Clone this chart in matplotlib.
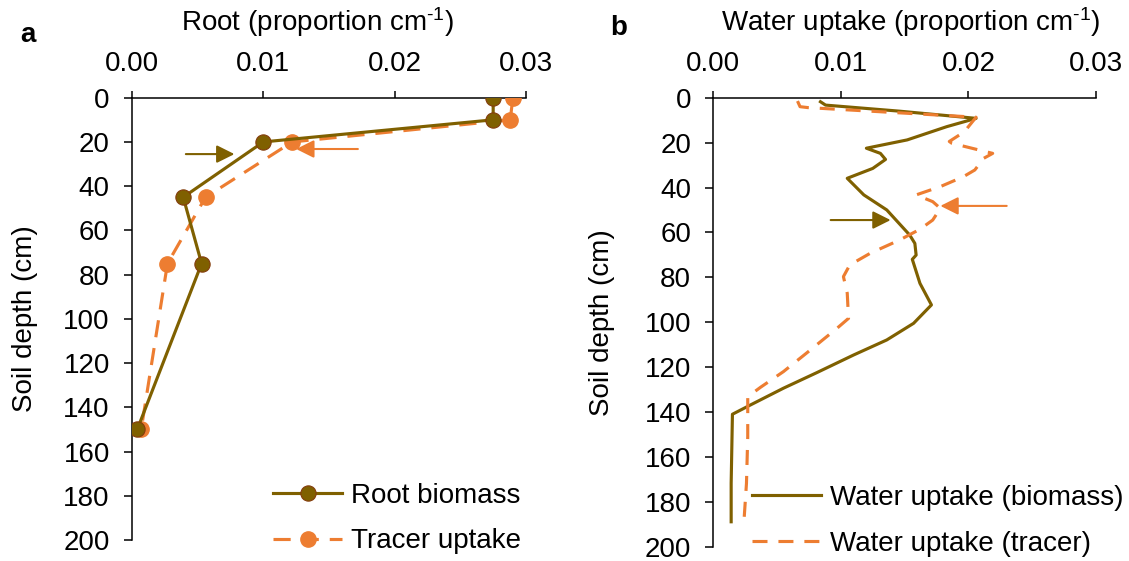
import matplotlib
matplotlib.use("Agg")
import matplotlib.pyplot as plt

plt.rcParams['font.family'] = ['Liberation Sans', 'DejaVu Sans']
plt.rcParams['mathtext.fontset'] = 'custom'
plt.rcParams['mathtext.rm'] = 'Liberation Sans'
plt.rcParams['mathtext.it'] = 'Liberation Sans:italic'
plt.rcParams['font.size'] = 20

BROWN = '#7F6000'
ORANGE = '#ED7D31'

# panel a: root distribution
root_depth = [0, 10, 20, 45, 75, 150]
root_biomass = [0.0275, 0.0275, 0.0100, 0.0039, 0.0053, 0.0004]
tracer_uptake = [0.0290, 0.0288, 0.0122, 0.0056, 0.0027, 0.0007]

# panel b: water uptake profiles
wu_bio_depth = [1.8, 3.3, 6.0, 9.2, 12.9, 18.8, 22.5, 24.8, 27.5, 31.5, 35.9, 43.3,
                50.0, 61.2, 64.9, 70.1, 72.0, 82.7, 92.3, 100.5, 107.9, 114.6, 122.5,
                129.4, 136.9, 141.0, 171.8, 188.9]
wu_bio = [0.0084, 0.0088, 0.0146, 0.0206, 0.0183, 0.0152, 0.0120, 0.0131, 0.0135,
          0.0125, 0.0105, 0.0118, 0.0136, 0.0154, 0.0158, 0.0159, 0.0156, 0.0162,
          0.0171, 0.0157, 0.0136, 0.0110, 0.0081, 0.0055, 0.0029, 0.0015, 0.0014,
          0.0014]
wu_tr_depth = [1.5, 4.0, 4.4, 8.7, 12.9, 15.1, 19.5, 20.3, 24.8, 27.0, 32.2, 35.2,
               39.6, 43.3, 46.3, 49.3, 54.5, 58.6, 63.4, 69.3, 74.5, 79.7, 87.1, 98.3,
               102.7, 113.8, 122.0, 129.0, 133.2, 151.0, 171.8, 188.9]
wu_tr = [0.0066, 0.0068, 0.0074, 0.0206, 0.0200, 0.0197, 0.0185, 0.0187, 0.0219,
         0.0212, 0.0205, 0.0196, 0.0178, 0.0159, 0.0172, 0.0178, 0.0172, 0.0162,
         0.0146, 0.0123, 0.0107, 0.0102, 0.0105, 0.0106, 0.0097, 0.0073, 0.0055,
         0.0037, 0.0027, 0.0027, 0.0026, 0.0024]

# arrows: (tail x, tip x, depth)
arrows_a = [(0.0041, 0.0078, 25.5, BROWN), (0.0172, 0.0125, 23.2, ORANGE)]
arrows_b = [(0.0092, 0.0139, 54.5, BROWN), (0.0230, 0.0178, 48.2, ORANGE)]

xticks = [0.00, 0.01, 0.02, 0.03]
yticks = list(range(0, 201, 20))

fig = plt.figure(figsize=(11.29, 5.61), dpi=100)
W, H = 1129, 561
ax1 = fig.add_axes([132 / W, 1 - 540 / H, 394 / W, 442.3 / H])
ax2 = fig.add_axes([713.3 / W, 1 - 546.7 / H, 382.7 / W, 449 / H])


def style_axis(ax, xlabel, xlab_pos, ylab_x):
    ax.set_xlim(0, 0.03)
    ax.set_ylim(200, 0)
    ax.set_xticks(xticks)
    ax.set_xticklabels(['%.2f' % v for v in xticks])
    ax.set_yticks(yticks)
    ax.xaxis.tick_top()
    ax.xaxis.set_label_position('top')
    for s in ['right', 'bottom']:
        ax.spines[s].set_visible(False)
    for s in ['left', 'top']:
        ax.spines[s].set_linewidth(1.1)
    ax.tick_params(axis='x', direction='out', length=5, width=1.1, pad=10)
    ax.tick_params(axis='y', direction='out', length=6, width=1.1, pad=10)
    ax.set_xlabel(xlabel)
    ax.xaxis.label.set_va('center')
    ax.xaxis.set_label_coords(xlab_pos[0], xlab_pos[1])
    ax.set_ylabel('Soil depth (cm)')
    ax.yaxis.set_label_coords(ylab_x, 0.5)
    ax.patch.set_alpha(0)


# panel a
ax1.plot(tracer_uptake, root_depth, color=ORANGE, lw=2.25, dashes=[5.5, 3.5],
         marker='o', ms=11, mfc=ORANGE, mec=ORANGE, label='Tracer uptake', zorder=3)
ax1.plot(root_biomass, root_depth, color=BROWN, lw=2.25, marker='o', ms=11,
         mfc=BROWN, mec='#843C0C', mew=0.8, label='Root biomass', zorder=4)
for x0, x1, d, c in arrows_a:
    ax1.annotate('', xy=(x1, d), xytext=(x0, d),
                 arrowprops=dict(arrowstyle='-|>', color=c, lw=1.5,
                                 mutation_scale=27, shrinkA=0, shrinkB=0))
style_axis(ax1, r'Root (proportion cm$^{\text{-1}}$)', (0.47, 1.171), -0.2386)
h, l = ax1.get_legend_handles_labels()
ax1.legend(h[::-1], l[::-1], loc='lower left', bbox_to_anchor=(273 / W, 0.012),
           bbox_transform=fig.transFigure, frameon=False, borderpad=0,
           borderaxespad=0, handlelength=2.5, handletextpad=0.3,
           labelspacing=0.7, numpoints=1)

# panel b
ax2.plot(wu_tr, wu_tr_depth, color=ORANGE, lw=2.25, dashes=[4.8, 3.5],
         label='Water uptake (tracer)', zorder=3)
ax2.plot(wu_bio, wu_bio_depth, color=BROWN, lw=2.25,
         label='Water uptake (biomass)', zorder=2)
for x0, x1, d, c in arrows_b:
    ax2.annotate('', xy=(x1, d), xytext=(x0, d),
                 arrowprops=dict(arrowstyle='-|>', color=c, lw=1.5,
                                 mutation_scale=27, shrinkA=0, shrinkB=0))
style_axis(ax2, r'Water uptake (proportion cm$^{\text{-1}}$)', (0.517, 1.169), -0.257)
h, l = ax2.get_legend_handles_labels()
ax2.legend(h[::-1], l[::-1], loc='lower left', bbox_to_anchor=(752 / W, 0.008),
           bbox_transform=fig.transFigure, frameon=False, borderpad=0,
           borderaxespad=0, handlelength=2.5, handletextpad=0.3,
           labelspacing=0.7)

fig.text(28 / W, 1 - 35 / H, 'a', fontweight='bold', ha='center', va='center')
fig.text(619 / W, 1 - 28 / H, 'b', fontweight='bold', ha='center', va='center')

fig.savefig('out.png', dpi=100)
